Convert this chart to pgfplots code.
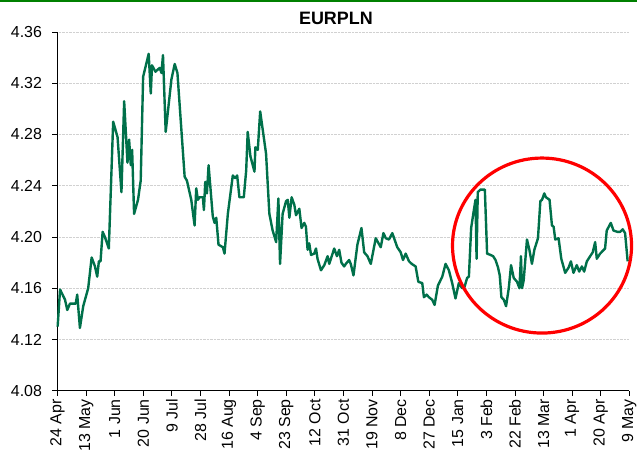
\documentclass[border=0pt]{standalone}
\usepackage{pgfplots}
\pgfplotsset{compat=1.18}
\usepackage{fontspec}
\setmainfont{Liberation Sans}
\usetikzlibrary{calc}
\definecolor{linegreen}{RGB}{0,112,74}
\definecolor{framegreen}{RGB}{0,128,0}
\begin{document}
\begin{tikzpicture}
\begin{axis}[
  name=ax, at={(0,0)}, anchor=south west,
  scale only axis, width=571.8bp, height=358.7bp,
  xmin=0, xmax=380, ymin=4.08, ymax=4.36,
  xtick={0,19,...,380},
  xticklabels={24 Apr,13 May,1 Jun,20 Jun,9 Jul,28 Jul,16 Aug,4 Sep,23 Sep,12 Oct,31 Oct,19 Nov,8 Dec,27 Dec,15 Jan,3 Feb,22 Feb,13 Mar,1 Apr,20 Apr,9 May},
  ytick={4.08,4.12,4.16,4.20,4.24,4.28,4.32,4.36},
  yticklabel style={/pgf/number format/.cd, fixed, fixed zerofill, precision=2, assume math mode=true, /tikz/.cd, xshift=-7bp},
  tick label style={font=\fontsize{16}{19}\selectfont, text=black},
  xticklabel style={rotate=90, anchor=east},
  axis x line=bottom, axis y line=left,
  axis line style={-, black, line width=0.8bp},
  tick style={black, line width=0.8bp}, major tick length=5bp, tick align=outside,
  ymajorgrids, major grid style={densely dotted, black!18, line width=0.6bp},
  clip=false,
]
\addplot[linegreen, line width=2.4bp, line join=round] coordinates {
(0.1,4.130) (1.7,4.159) (5.0,4.151) (6.5,4.143) (8.3,4.148) (12.1,4.148) (13.1,4.155) (14.9,4.129)
(17.1,4.146) (20.4,4.160) (22.7,4.184) (24.9,4.177) (26.4,4.169) (27.5,4.181) (28.6,4.181) (30.0,4.204)
(31.5,4.200) (34.1,4.191) (37.0,4.290) (39.9,4.278) (42.5,4.235) (44.3,4.306) (46.5,4.258) (47.6,4.276)
(48.7,4.256) (49.6,4.268) (50.9,4.218) (53.5,4.229) (55.3,4.244) (56.9,4.325) (60.6,4.343) (62.0,4.312)
(62.8,4.334) (65.1,4.329) (67.9,4.332) (69.1,4.328) (70.1,4.342) (71.9,4.282) (75.7,4.323) (77.9,4.335)
(79.7,4.328) (84.5,4.247) (86.0,4.244) (88.9,4.229) (91.1,4.209) (92.2,4.238) (93.3,4.229) (94.4,4.231)
(96.6,4.231) (97.3,4.221) (98.2,4.243) (99.3,4.234) (100.4,4.256) (103.2,4.216) (104.4,4.211) (105.5,4.215)
(107.0,4.194) (109.9,4.192) (111.0,4.187) (113.2,4.218) (116.5,4.248) (118.1,4.246) (119.4,4.248) (120.9,4.231)
(123.8,4.231) (125.4,4.252) (126.4,4.282) (128.2,4.263) (130.9,4.251) (131.5,4.270) (133.1,4.268) (134.7,4.298)
(138.6,4.265) (140.8,4.218) (143.0,4.205) (145.3,4.196) (146.8,4.230) (147.9,4.179) (149.6,4.218) (151.9,4.228)
(153.0,4.229) (154.1,4.215) (155.6,4.231) (157.4,4.225) (158.5,4.217) (160.7,4.222) (162.2,4.207) (164.0,4.211)
(165.1,4.208) (166.2,4.190) (167.3,4.195) (168.5,4.186) (170.6,4.187) (171.8,4.191) (172.8,4.183) (175.1,4.174)
(177.3,4.178) (179.5,4.185) (180.6,4.179) (183.9,4.191) (185.7,4.185) (187.2,4.190) (188.7,4.180) (190.5,4.177)
(191.6,4.179) (193.8,4.182) (194.9,4.179) (196.7,4.170) (199.3,4.194) (202.0,4.207) (203.8,4.188) (206.0,4.185)
(208.2,4.179) (211.5,4.199) (214.8,4.192) (216.6,4.203) (218.2,4.199) (220.3,4.198) (222.5,4.203) (225.8,4.192)
(228.1,4.188) (229.6,4.182) (231.4,4.187) (233.6,4.181) (235.4,4.179) (238.0,4.177) (239.8,4.165) (242.4,4.164)
(243.5,4.153) (245.3,4.155) (246.8,4.153) (249.0,4.151) (250.6,4.147) (252.8,4.162) (255.7,4.169) (257.9,4.179)
(260.1,4.174) (262.3,4.164) (264.5,4.152) (266.7,4.164) (268.9,4.160) (270.5,4.161) (272.2,4.168) (273.4,4.169)
(274.9,4.207) (276.7,4.221) (277.8,4.229) (278.5,4.183) (279.3,4.235) (281.1,4.237) (284.0,4.237) (285.5,4.187)
(287.7,4.186) (289.5,4.185) (291.1,4.182) (292.8,4.176) (293.9,4.170) (295.0,4.153) (296.6,4.151) (298.1,4.146)
(299.9,4.160) (301.4,4.178) (303.2,4.168) (305.4,4.165) (307.0,4.160) (308.0,4.185) (308.7,4.160) (309.8,4.166)
(312.0,4.198) (313.6,4.190) (315.3,4.179) (316.9,4.190) (319.3,4.199) (320.9,4.228) (322.0,4.229) (323.5,4.234)
(324.6,4.231) (327.0,4.229) (328.6,4.209) (329.7,4.208) (330.8,4.198) (333.0,4.199) (334.8,4.183) (337.4,4.172)
(339.6,4.176) (341.2,4.181) (342.9,4.172) (345.1,4.178) (346.7,4.173) (348.5,4.177) (350.0,4.173) (351.8,4.181)
(354.0,4.185) (355.7,4.188) (357.3,4.196) (358.4,4.183) (360.6,4.187) (363.9,4.191) (365.0,4.205) (367.7,4.211)
(369.5,4.205) (372.1,4.204) (373.9,4.204) (375.6,4.206) (377.2,4.203) (378.9,4.181)
};
\draw[red, line width=3.2bp] (axis cs:322.0,4.1933) ellipse [x radius=89.5bp, y radius=87.5bp];
\end{axis}
\node[font=\bfseries\fontsize{18}{18}\selectfont] at ($(ax.north)+(-7.5bp,13.5bp)$) {EURPLN};
\pgfresetboundingbox
\path[use as bounding box] ($(ax.south west)+(-57.5bp,-59.3bp)$) rectangle ($(ax.north east)+(7.7bp,32bp)$);
\draw[framegreen, line width=1.6bp] ($(ax.north west)+(-57.5bp,31.2bp)$) -- ($(ax.north east)+(7.7bp,31.2bp)$);
\end{tikzpicture}
\end{document}
